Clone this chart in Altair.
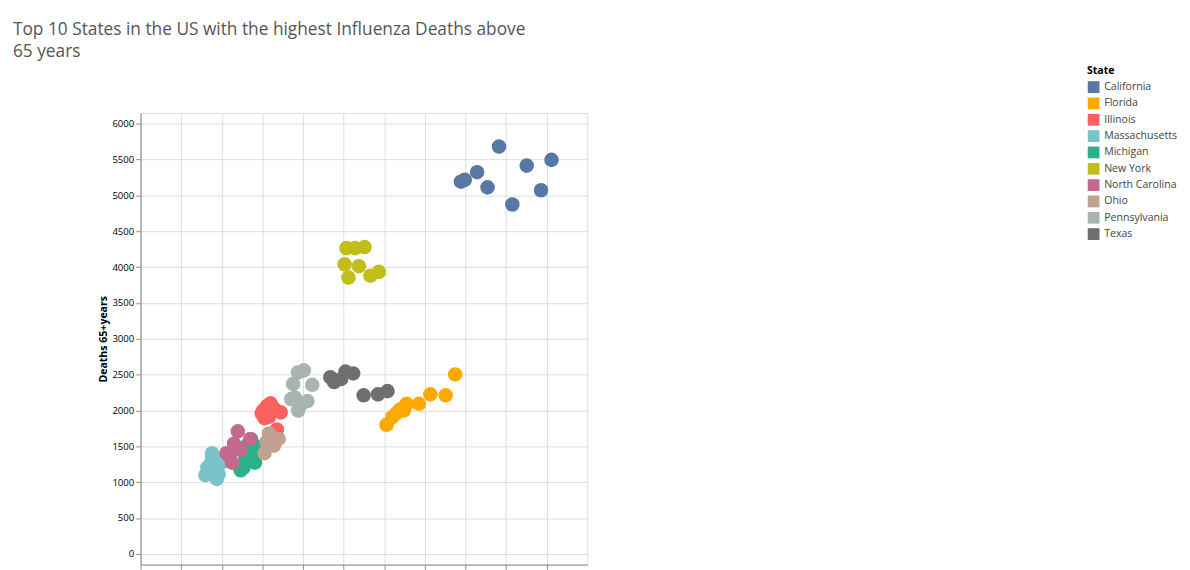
import altair as alt
import pandas as pd

states = ["California", "Florida", "Illinois", "Massachusetts", "Michigan",
          "New York", "North Carolina", "Ohio", "Pennsylvania", "Texas"]
colors = ["#5778a4", "#ffa900", "#fb6060", "#7cc2ca", "#2bb08a",
          "#c0be1a", "#c26a8e", "#c1a190", "#a8b5ae", "#6f6f6f"]

# population 65+ (K) and deaths 65+ per state
pop = {
    "California": [3944, 3991, 4143, 4272, 4413, 4577, 4754, 4930, 5059],
    "Florida": [3028, 3099, 3192, 3275, 3427, 3568, 3756, 3873, 3150, 3240],
    "Illinois": [1561, 1491, 1725, 1678, 1526, 1600, 1540, 1650, 1510, 1580],
    "Massachusetts": [880, 822, 962, 798, 939, 880, 998, 920, 860],
    "Michigan": [1326, 1291, 1385, 1268, 1408, 1232, 1360, 1300, 1420, 1340],
    "New York": [2535, 2641, 2758, 2512, 2688, 2934, 2829, 2559],
    "North Carolina": [1197, 1150, 1056, 1127, 1350, 1230, 1100],
    "Ohio": [1700, 1643, 1526, 1549, 1580],
    "Pennsylvania": [1937, 2010, 1878, 2113, 1854, 2054, 1940, 1900, 1990],
    "Texas": [2336, 2383, 2523, 2617, 2746, 2923, 3040, 2470],
}
deaths = {
    "California": [5192, 5219, 5325, 5113, 5682, 4874, 5417, 5073, 5497],
    "Florida": [1801, 1907, 2013, 2093, 2093, 2225, 2212, 2503, 1960, 2000],
    "Illinois": [2066, 1960, 1974, 1735, 1894, 2100, 2030, 2020, 2000, 1910],
    "Massachusetts": [1338, 1205, 1113, 1099, 1046, 1404, 1272, 1300, 1250],
    "Michigan": [1536, 1338, 1444, 1205, 1272, 1166, 1600, 1480, 1500, 1360],
    "New York": [4265, 4265, 4280, 4040, 4013, 3934, 3881, 3854],
    "North Carolina": [1709, 1536, 1404, 1272, 1603, 1450, 1350],
    "Ohio": [1603, 1510, 1404, 1563, 1680],
    "Pennsylvania": [2530, 2560, 2371, 2358, 2159, 2132, 2000, 2180, 2100],
    "Texas": [2464, 2397, 2543, 2517, 2212, 2225, 2270, 2440],
}

rows = []
for s in states:
    for p, d in zip(pop[s], deaths[s]):
        rows.append({"State": s, "Population": p, "Deaths": d})
df = pd.DataFrame(rows)

chart = alt.Chart(df).mark_circle(size=230, opacity=1).encode(
    x=alt.X("Population:Q", title="Population65+ years",
            scale=alt.Scale(domain=[0, 5500], nice=False),
            axis=alt.Axis(values=list(range(0, 5001, 500)),
                          labelExpr="format(datum.value, 'd') + 'K'")),
    y=alt.Y("Deaths:Q", title="Deaths 65+years",
            scale=alt.Scale(domain=[-150, 6150], nice=False),
            axis=alt.Axis(values=list(range(0, 6001, 500)), format="d")),
    color=alt.Color("State:N", scale=alt.Scale(domain=states, range=colors),
                    legend=alt.Legend(orient="none", legendX=985, legendY=-50,
                                      symbolType="square", symbolSize=150,
                                      labelFontSize=11, titleFontSize=11,
                                      rowPadding=3, labelColor="#444")),
).properties(
    width=465, height=470,
    padding={"left": 5, "top": 2, "right": 5, "bottom": 5},
    title=alt.TitleParams(["Top 10 States in the US with the highest Influenza Deaths above", "65 years"],
                          anchor="start", fontSize=18, fontWeight="normal", color="#555",
                          offset=4, dx=-88, lineHeight=23)
).configure_axis(
    grid=True, gridColor="#efefef", domain=False, ticks=False,
    labelColor="#666", labelFontSize=11, titleFontSize=10, titleColor="#333",
    labelPadding=8, titlePadding=10
).configure_view(stroke=None).configure(font="Open Sans")

chart.save("out.html", embed_options={"renderer": "svg", "actions": False})
